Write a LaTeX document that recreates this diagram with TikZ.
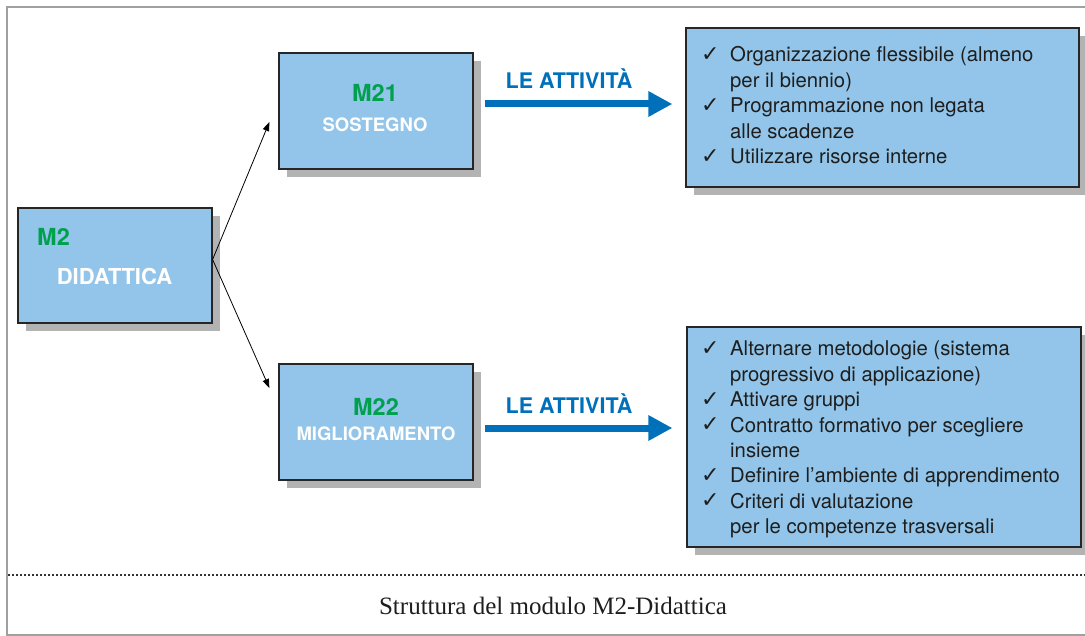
\documentclass[tikz,border=0pt]{standalone}
\usepackage{fontspec}
\setmainfont{TeX Gyre Heros}
\newfontfamily\dejavu{DejaVu Sans}
\newfontfamily\capfont{Liberation Serif}
\usetikzlibrary{arrows.meta,shadows,calc}
\definecolor{boxblue}{HTML}{92C5E9}
\definecolor{mgreen}{HTML}{00A04E}
\definecolor{arrblue}{HTML}{0070BA}
\definecolor{shadowgray}{HTML}{B3B3B3}
\definecolor{framegray}{HTML}{A0A0A0}
\definecolor{txt}{HTML}{1E1E1E}
\newcommand{\ck}{\makebox[29pt][l]{\raisebox{0.5pt}{\dejavu\fontsize{22}{22}\selectfont ✓}}}
\newcommand{\nock}{\makebox[29pt][l]{}}
\tikzset{
  bluebox/.style={draw=black!85, line width=1.2pt, fill=boxblue, inner sep=0pt,
    general shadow={fill=shadowgray, shadow xshift=8pt, shadow yshift=-8pt}},
  codetxt/.style={text=mgreen, font=\bfseries\fontsize{23.5}{23.5}\selectfont, inner sep=0pt},
  nametxt/.style={text=white, font=\bfseries\fontsize{18.5}{18.5}\selectfont, inner sep=0pt},
  acttxt/.style={text=arrblue, font=\bfseries\fontsize{21.5}{21.5}\selectfont, inner sep=0pt},
  thinarrow/.style={-{Triangle[length=9pt,width=6.5pt]}, line width=0.8pt, black},
  bigarrow/.style={-{Triangle[length=24pt,width=24pt]}, line width=7pt, arrblue},
  listtxt/.style={text=txt, inner sep=0pt, anchor=north west,
    font=\fontsize{20.3}{25.4}\selectfont}
}
\begin{document}
\begin{tikzpicture}[x=1pt,y=-1pt]
\useasboundingbox (0,0) rectangle (1085,636);
% frame
\draw[framegray, line width=1.5pt] (1085,7) -- (7,7) -- (7,635) -- (1085,635);
\draw[black!80, line width=1.6pt, dash pattern=on 1.6pt off 2.4pt] (8,575) -- (1085,575);
% boxes
\node[bluebox, minimum width=194pt, minimum height=115pt] (m2) at (115,265.5) {};
\node[bluebox, minimum width=194pt, minimum height=116pt] (m21) at (376,111) {};
\node[bluebox, minimum width=194pt, minimum height=116pt] (m22) at (376,422) {};
\node[bluebox, minimum width=393pt, minimum height=159pt] (act1) at (882.5,107.5) {};
\node[bluebox, minimum width=394pt, minimum height=220pt] (act2) at (884,437) {};
% box texts
\node[codetxt, anchor=west] (m2code) at (37,237) {M2};
\node[nametxt, font=\bfseries\fontsize{22}{22}\selectfont] (m2name) at (114.5,276) {DIDATTICA};
\node[codetxt] (m21code) at (375,93) {M21};
\node[nametxt] (m21name) at (375,125) {SOSTEGNO};
\node[codetxt] (m22code) at (376,407) {M22};
\node[nametxt] (m22name) at (376,434) {MIGLIORAMENTO};
% connectors
\coordinate (m2out) at ($(m2.east)+(0,-6)$);
\draw[thinarrow] (m2out) -- ($(m21.west)+(-9,11)$);
\draw[thinarrow] (m2out) -- ($(m22.west)+(-9,-34)$);
\draw[bigarrow, shorten <=11pt, shorten >=13pt] ($(m21.east)+(0,-7)$) -- ($(act1.west)+(0,-3.5)$);
\draw[bigarrow, shorten <=11pt, shorten >=14pt] ($(m22.east)+(0,6)$) -- ($(act2.west)+(0,-9)$);
\node[acttxt] (lbl1) at (569,79) {LE ATTIVITÀ};
\node[acttxt] (lbl2) at (569,404) {LE ATTIVITÀ};
% lists
\node[listtxt] (list1) at (701,44) {%
  \begin{tabular}{@{}l@{}l@{}}
  \ck & Organizzazione flessibile (almeno\\
  \nock & per il biennio)\\
  \ck & Programmazione non legata\\
  \nock & alle scadenze\\
  \ck & Utilizzare risorse interne
  \end{tabular}};
\node[listtxt] (list2) at (701,338) {%
  \begin{tabular}{@{}l@{}l@{}}
  \ck & Alternare metodologie (sistema\\
  \nock & progressivo di applicazione)\\
  \ck & Attivare gruppi\\
  \ck & Contratto formativo per scegliere\\
  \nock & insieme\\
  \ck & Definire l’ambiente di apprendimento\\
  \ck & Criteri di valutazione\\
  \nock & per le competenze trasversali
  \end{tabular}};
% caption
\node[inner sep=0pt, text=txt, font=\capfont\fontsize{25}{25}\selectfont] (caption) at (553,606) {Struttura del modulo M2-Didattica};
\end{tikzpicture}
\end{document}
